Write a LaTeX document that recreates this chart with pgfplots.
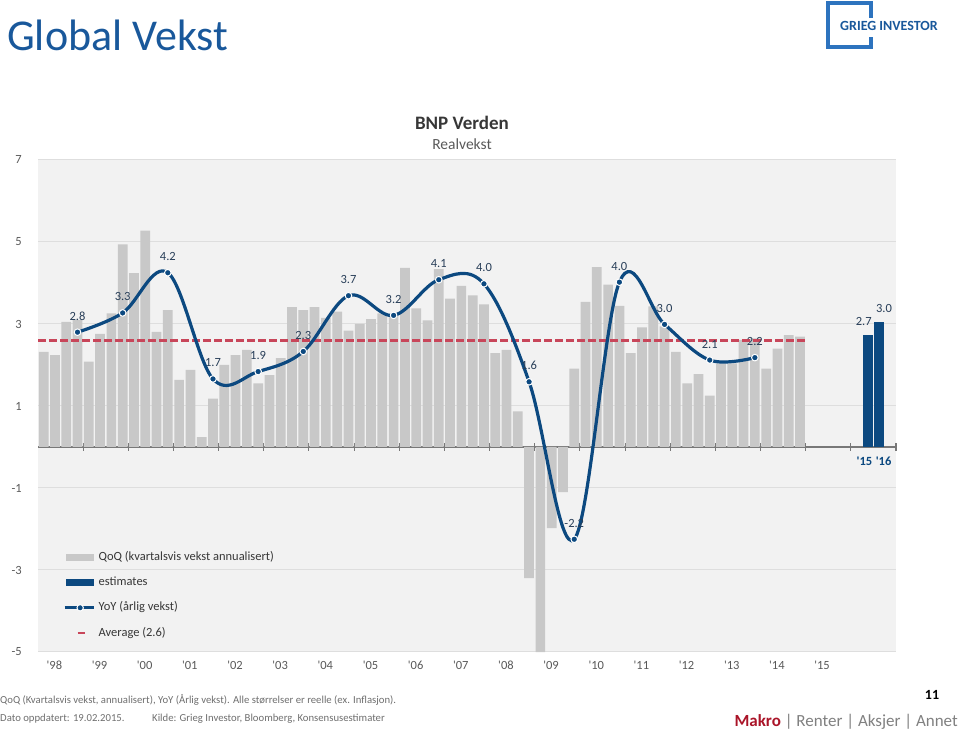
\documentclass[border=0pt]{standalone}
\usepackage{pgfplots}
\pgfplotsset{compat=1.18}
\usepackage{pgfplotstable}
\usepackage{fontspec}
\setmainfont{Carlito}
\definecolor{bggray}{RGB}{242,242,242}
\definecolor{bargray}{RGB}{200,200,200}
\definecolor{gridgray}{RGB}{222,222,222}
\definecolor{navy}{RGB}{12,73,128}
\definecolor{avgred}{RGB}{200,70,90}
\definecolor{lblblue}{RGB}{40,62,88}
\definecolor{tickgray}{RGB}{89,89,89}
\definecolor{axgray}{RGB}{120,120,120}
\definecolor{txtgray}{RGB}{55,55,55}
\definecolor{titleblue}{RGB}{25,88,155}
\definecolor{logoblue}{RGB}{45,115,190}
\definecolor{footgray}{RGB}{110,110,110}
\definecolor{makrored}{RGB}{170,20,40}

\pgfplotstableread{
x y
0.5 2.32
1.5 2.24
2.5 3.05
3.5 3.10
4.5 2.08
5.5 2.76
6.5 3.26
7.5 4.94
8.5 4.24
9.5 5.28
10.5 2.81
11.5 3.34
12.5 1.64
13.5 1.88
14.5 0.24
15.5 1.18
16.5 2.00
17.5 2.24
18.5 2.37
19.5 1.55
20.5 1.75
21.5 2.17
22.5 3.41
23.5 3.34
24.5 3.41
25.5 3.15
26.5 3.30
27.5 2.84
28.5 3.00
29.5 3.12
30.5 3.26
31.5 3.20
32.5 4.37
33.5 3.38
34.5 3.09
35.5 4.34
36.5 3.62
37.5 3.93
38.5 3.70
39.5 3.48
40.5 2.29
41.5 2.37
42.5 0.87
43.5 -3.20
44.5 -5.00
45.5 -1.98
46.5 -1.10
47.5 1.91
48.5 3.54
49.5 4.39
50.5 3.96
51.5 3.44
52.5 2.29
53.5 2.92
54.5 3.43
55.5 2.94
56.5 2.32
57.5 1.55
58.5 1.78
59.5 1.25
60.5 2.04
61.5 2.04
62.5 2.61
63.5 2.65
64.5 1.91
65.5 2.40
66.5 2.73
67.5 2.69
}\qoqtable

\pgfplotstableread{
x y label
3.5 2.80 2.8
7.5 3.27 3.3
11.5 4.25 4.2
15.5 1.66 1.7
19.5 1.84 1.9
23.5 2.33 2.3
27.5 3.69 3.7
31.5 3.21 3.2
35.5 4.08 4.1
39.5 3.98 4.0
43.5 1.59 1.6
47.5 -2.25 -2.2
51.5 4.02 4.0
55.5 2.99 3.0
59.5 2.12 2.1
63.5 2.18 2.2
}\yoytable

\newcommand{\fs}[1]{\fontsize{#1}{#1}\selectfont}
\newcommand{\q}{\textquotesingle}

\begin{document}
\begin{tikzpicture}[x=1pt,y=1pt]
\useasboundingbox (0,0) rectangle (960,733);

% ---------- background, grid, y labels, zero line ----------
\begin{axis}[
  at={(38pt,81pt)}, anchor=south west,
  width=858pt, height=492pt, scale only axis,
  xmin=0, xmax=76, ymin=-5, ymax=7,
  axis background/.style={fill=bggray},
  axis x line*=middle, axis y line*=left,
  y axis line style={draw=none},
  x axis line style={draw=axgray, line width=1.2pt},
  xtick={0,4,...,76}, xticklabels={},
  xtick style={draw=axgray, line width=1.1pt},
  major tick length=8pt, tick align=center,
  ytick={-5,-3,-1,1,3,5,7}, yticklabels={-5,-3,-1,1,3,5,7},
  ytick style={draw=none},
  ymajorgrids, grid style={draw=gridgray, line width=1pt},
  yticklabel style={font=\fs{12.5}, text=tickgray, anchor=east, inner sep=0pt, xshift=-12pt},
]
\end{axis}

% ---------- data ----------
\begin{axis}[
  at={(38pt,81pt)}, anchor=south west,
  width=858pt, height=492pt, scale only axis,
  xmin=0, xmax=76, ymin=-5, ymax=7,
  axis x line*=bottom, axis y line=none,
  x axis line style={draw=none},
  xtick={1.45,5.45,9.45,13.45,17.45,21.45,25.45,29.45,33.45,37.45,41.45,45.45,49.45,53.45,57.45,61.45,65.45,69.45},
  xticklabels={\q98,\q99,\q00,\q01,\q02,\q03,\q04,\q05,\q06,\q07,\q08,\q09,\q10,\q11,\q12,\q13,\q14,\q15},
  xtick style={draw=none},
  xticklabel style={font=\fs{12.5}, text=tickgray, inner sep=0pt, yshift=-9pt},
  legend style={at={(0.0291,0.2053)}, anchor=north west, draw=none, fill=none,
    inner sep=0pt, row sep=13.3pt, column sep=3.5pt, font=\fs{12.5}, text=txtgray,
    cells={anchor=west}, nodes={inner sep=0pt, text height=9pt, text depth=3pt}},
]
\addlegendimage{legend image code/.code={\fill[bargray] (2pt,-3pt) rectangle (29pt,3pt);}}
\addlegendentry{QoQ (kvartalsvis vekst annualisert)}
\addlegendimage{legend image code/.code={\fill[navy] (2pt,-3.2pt) rectangle (29pt,3.2pt);}}
\addlegendentry{estimates}
\addlegendimage{legend image code/.code={\draw[navy, line width=3pt] (0pt,0pt) -- (29pt,0pt); \filldraw[fill=navy, draw=white, line width=1pt] (15.5pt,0pt) circle (3.2pt);}}
\addlegendentry{YoY (årlig vekst)}
\addlegendimage{legend image code/.code={\draw[avgred, line width=1.2pt] (13pt,0pt) -- (20pt,0pt);}}
\addlegendentry{Average (2.6)}

\addplot[ybar, bar width=0.86, bar shift=0pt, fill=bargray, draw=none, forget plot]
  table[x=x, y=y] {\qoqtable};

\addplot[ybar, bar width=0.86, bar shift=0pt, fill=navy, draw=none, forget plot,
  nodes near coords, point meta=explicit symbolic,
  nodes near coords style={font=\fs{12.5}, text=lblblue, anchor=center, yshift=13.5pt, xshift=-4pt}]
  table[meta=label] {
x y label
73.5 2.73 2.7
};
\addplot[ybar, bar width=0.86, bar shift=0pt, fill=navy, draw=none, forget plot,
  nodes near coords, point meta=explicit symbolic,
  nodes near coords style={font=\fs{12.5}, text=lblblue, anchor=center, yshift=14pt, xshift=5pt}]
  table[meta=label] {
x y label
74.5 3.04 3.0
};

\addplot[avgred, line width=2.5pt, dash pattern=on 7.5pt off 3.5pt, forget plot]
  coordinates {(0,2.6) (68,2.6)};

\addplot[navy, line width=3.2pt, smooth, tension=0.6, mark=*, mark size=3.3pt,
  mark options={fill=navy, draw=white, line width=1pt, solid},
  nodes near coords, point meta=explicit symbolic,
  nodes near coords style={font=\fs{12.5}, text=lblblue, anchor=center, yshift=16pt},
  forget plot]
  table[x=x, y=y, meta=label] {\yoytable};

\node[font=\bfseries\fs{12.5}, text=navy] at (axis cs:73.2,-0.34) {\q15};
\node[font=\bfseries\fs{12.5}, text=navy] at (axis cs:74.9,-0.34) {\q16};
\end{axis}

% ---------- titles and page furniture ----------
\node[anchor=base west, font=\fs{44}, text=titleblue, inner sep=0pt] at (7,682) {Global Vekst};
\draw[logoblue, line width=3.5pt] (871,699) -- (871,730) -- (828,730) -- (828,686) -- (871,686) -- (871,696);
\fill[white] (834,697) rectangle (946,715);
\node[font=\bfseries\fs{14}, text=titleblue, inner sep=0pt] at (889,707) {GRIEG INVESTOR};

\node[font=\bfseries\fs{19}, text=txtgray] at (462,610) {BNP Verden};
\node[font=\fs{15.5}, text=tickgray] at (462,589) {Realvekst};

\node[anchor=west, font=\fs{10.7}, text=footgray, inner sep=0pt] at (0,33) {QoQ (Kvartalsvis vekst, annualisert), YoY (Årlig vekst). Alle størrelser er reelle (ex. Inflasjon).};
\node[anchor=west, font=\fs{10.7}, text=footgray, inner sep=0pt] at (0,14) {Dato oppdatert: 19.02.2015.};
\node[anchor=west, font=\fs{10.7}, text=footgray, inner sep=0pt] at (152,14) {Kilde: Grieg Investor, Bloomberg, Konsensusestimater};
\node[font=\bfseries\fs{14}, text=black] at (932,38) {11};
\node[anchor=east, font=\fs{17}, text=gray, inner sep=0pt] at (958,11) {\textcolor{makrored}{\bfseries Makro} | Renter | Aksjer | Annet};
\end{tikzpicture}
\end{document}
